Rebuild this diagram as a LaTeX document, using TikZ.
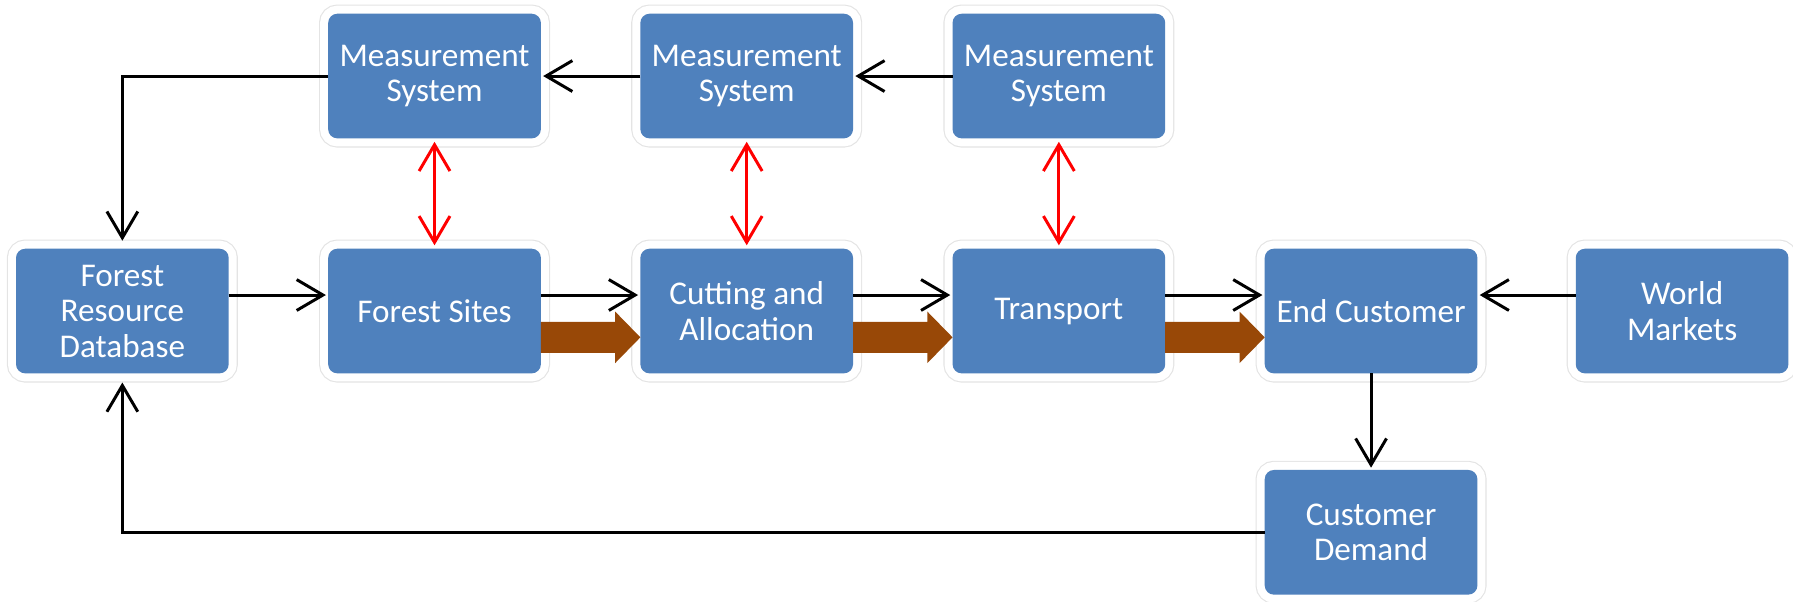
\documentclass[tikz,border=0pt]{standalone}
\usepackage{fontspec}
\setmainfont{Carlito}
\usetikzlibrary{arrows.meta,calc}
\definecolor{boxblue}{HTML}{4F81BD}
\definecolor{flowbrown}{HTML}{984807}
\definecolor{halogray}{HTML}{E4E4E4}
\newcommand\BrownArr[2]{%
  \fill[flowbrown] ($(#1.east)+(0,-23+13.5)$) -- ($(#2.west)+(-22,-23+13.5)$)
    -- ($(#2.west)+(-22,-23+22.5)$) -- ($(#2.west)+(0,-23)$)
    -- ($(#2.west)+(-22,-23-22.5)$) -- ($(#2.west)+(-22,-23-13.5)$)
    -- ($(#1.east)+(0,-23-13.5)$) -- cycle;}
\begin{document}
\begin{tikzpicture}[x=1pt,y=1pt,
  box/.style={fill=boxblue, rounded corners=8pt, minimum width=186pt,
    minimum height=109pt, inner sep=0pt, outer sep=0pt, text=white, align=center,
    font=\fontsize{29pt}{31pt}\selectfont,
    preaction={draw=halogray, line width=16pt},
    preaction={draw=white, line width=14pt}},
  arr/.style={draw=black, line width=2.6pt, -{Straight Barb[length=23pt,width=27pt]}, shorten >=2pt},
  redarr/.style={draw=red, line width=2.6pt, {Straight Barb[length=23pt,width=27pt]}-{Straight Barb[length=23pt,width=27pt]}, shorten >=3pt, shorten <=3pt}]
\useasboundingbox (0,0) rectangle (1568,-525.6);
\node[box] (ms1) at (380,-66.5) {Measurement\\System};
\node[box] (ms2) at (653,-66.5) {Measurement\\System};
\node[box] (ms3) at (926,-66.5) {Measurement\\System};
\node[box] (frd) at (107,-272) {Forest\\Resource\\Database};
\node[box] (fs) at (380,-272) {Forest Sites};
\node[box] (cut) at (653,-272) {Cutting and\\Allocation};
\node[box] (tr) at (926,-272) {Transport};
\node[box] (ec) at (1199,-272) {End Customer};
\node[box] (wm) at (1471,-272) {World\\Markets};
\node[box] (cd) at (1199,-465.5) {Customer\\Demand};
% top row
\draw[arr] (ms1.west) -| ([yshift=5pt]frd.north);
\draw[arr] (ms2.west) -- (ms1.east);
\draw[arr] (ms3.west) -- (ms2.east);
% red links
\draw[redarr] (ms1.south) -- (fs.north);
\draw[redarr] (ms2.south) -- (cut.north);
\draw[redarr] (ms3.south) -- (tr.north);
% middle row
\draw[arr] ([yshift=14pt]frd.east) -- ([yshift=14pt]fs.west);
\draw[arr] ([yshift=14pt]fs.east) -- ([yshift=14pt]cut.west);
\draw[arr] ([yshift=14pt]cut.east) -- ([yshift=14pt]tr.west);
\draw[arr] ([yshift=14pt]tr.east) -- ([yshift=14pt]ec.west);
\draw[arr] ([yshift=14pt]wm.west) -- ([yshift=14pt]ec.east);
\BrownArr{fs}{cut}
\BrownArr{cut}{tr}
\BrownArr{tr}{ec}
% bottom
\draw[arr] (ec.south) -- (cd.north);
\draw[arr] (cd.west) -| ([yshift=-6pt]frd.south);
\end{tikzpicture}
\end{document}
